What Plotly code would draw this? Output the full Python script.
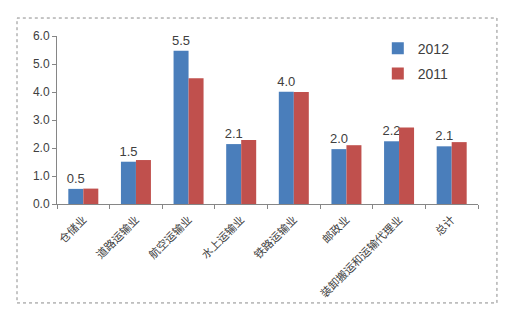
import plotly.graph_objects as go

categories = ["仓储业", "道路运输业", "航空运输业", "水上运输业", "铁路运输业", "邮政业", "装卸搬运和运输代理业", "总计"]
values_2012 = [0.54, 1.51, 5.47, 2.14, 4.01, 1.96, 2.24, 2.06]
values_2011 = [0.55, 1.57, 4.49, 2.29, 4.00, 2.10, 2.73, 2.21]
y_ticks = [0, 1, 2, 3, 4, 5, 6]
y_tick_labels = ["0.0", "1.0", "2.0", "3.0", "4.0", "5.0", "6.0"]

fig = go.Figure()
fig.add_trace(go.Bar(
    name="2012", x=categories, y=values_2012,
    marker=dict(color="#4A7EBB", line=dict(width=0)),
    text=values_2012, texttemplate="%{y:.1f}", textposition="outside",
    textfont=dict(family="Liberation Sans, Arial, sans-serif", size=13, color="#404040"),
    constraintext="none", cliponaxis=False, legendgroup="a",
))
fig.add_trace(go.Bar(
    name="2011", x=categories, y=values_2011,
    marker=dict(color="#C0504D", line=dict(width=0)),
    legendgroup="b",
))

fig.update_layout(
    width=513, height=330,
    margin=dict(l=57, r=35, t=36, b=126),
    paper_bgcolor="white", plot_bgcolor="white",
    barmode="group", bargap=0.43, bargroupgap=0,
    font=dict(family="Liberation Sans, Arial, sans-serif", size=12, color="#404040"),
    showlegend=True,
    legend=dict(x=0.762, y=1.02, xanchor="left", yanchor="top",
                bgcolor="rgba(0,0,0,0)", tracegroupgap=4,
                font=dict(size=14, color="#404040")),
    xaxis=dict(
        tickangle=-45, tickson="boundaries", ticks="outside", ticklen=4,
        tickcolor="#868686", showline=True, linecolor="#868686", linewidth=1,
        tickfont=dict(family="Noto Sans CJK SC", size=11, color="#404040"),
        showgrid=False, ticklabelstandoff=4,
    ),
    yaxis=dict(
        range=[0, 6], tickvals=y_ticks, ticktext=y_tick_labels,
        ticks="outside", ticklen=4, tickcolor="#868686",
        showline=True, linecolor="#868686", linewidth=1,
        showgrid=False, zeroline=False,
        tickfont=dict(size=12, color="#404040"),
    ),
    shapes=[dict(type="rect", xref="paper", yref="paper",
                 x0=-0.095, x1=1.045, y0=-0.589, y1=1.107,
                 line=dict(color="#8C8C8C", width=1, dash="dot"))],
)

fig.write_html("out.html")
